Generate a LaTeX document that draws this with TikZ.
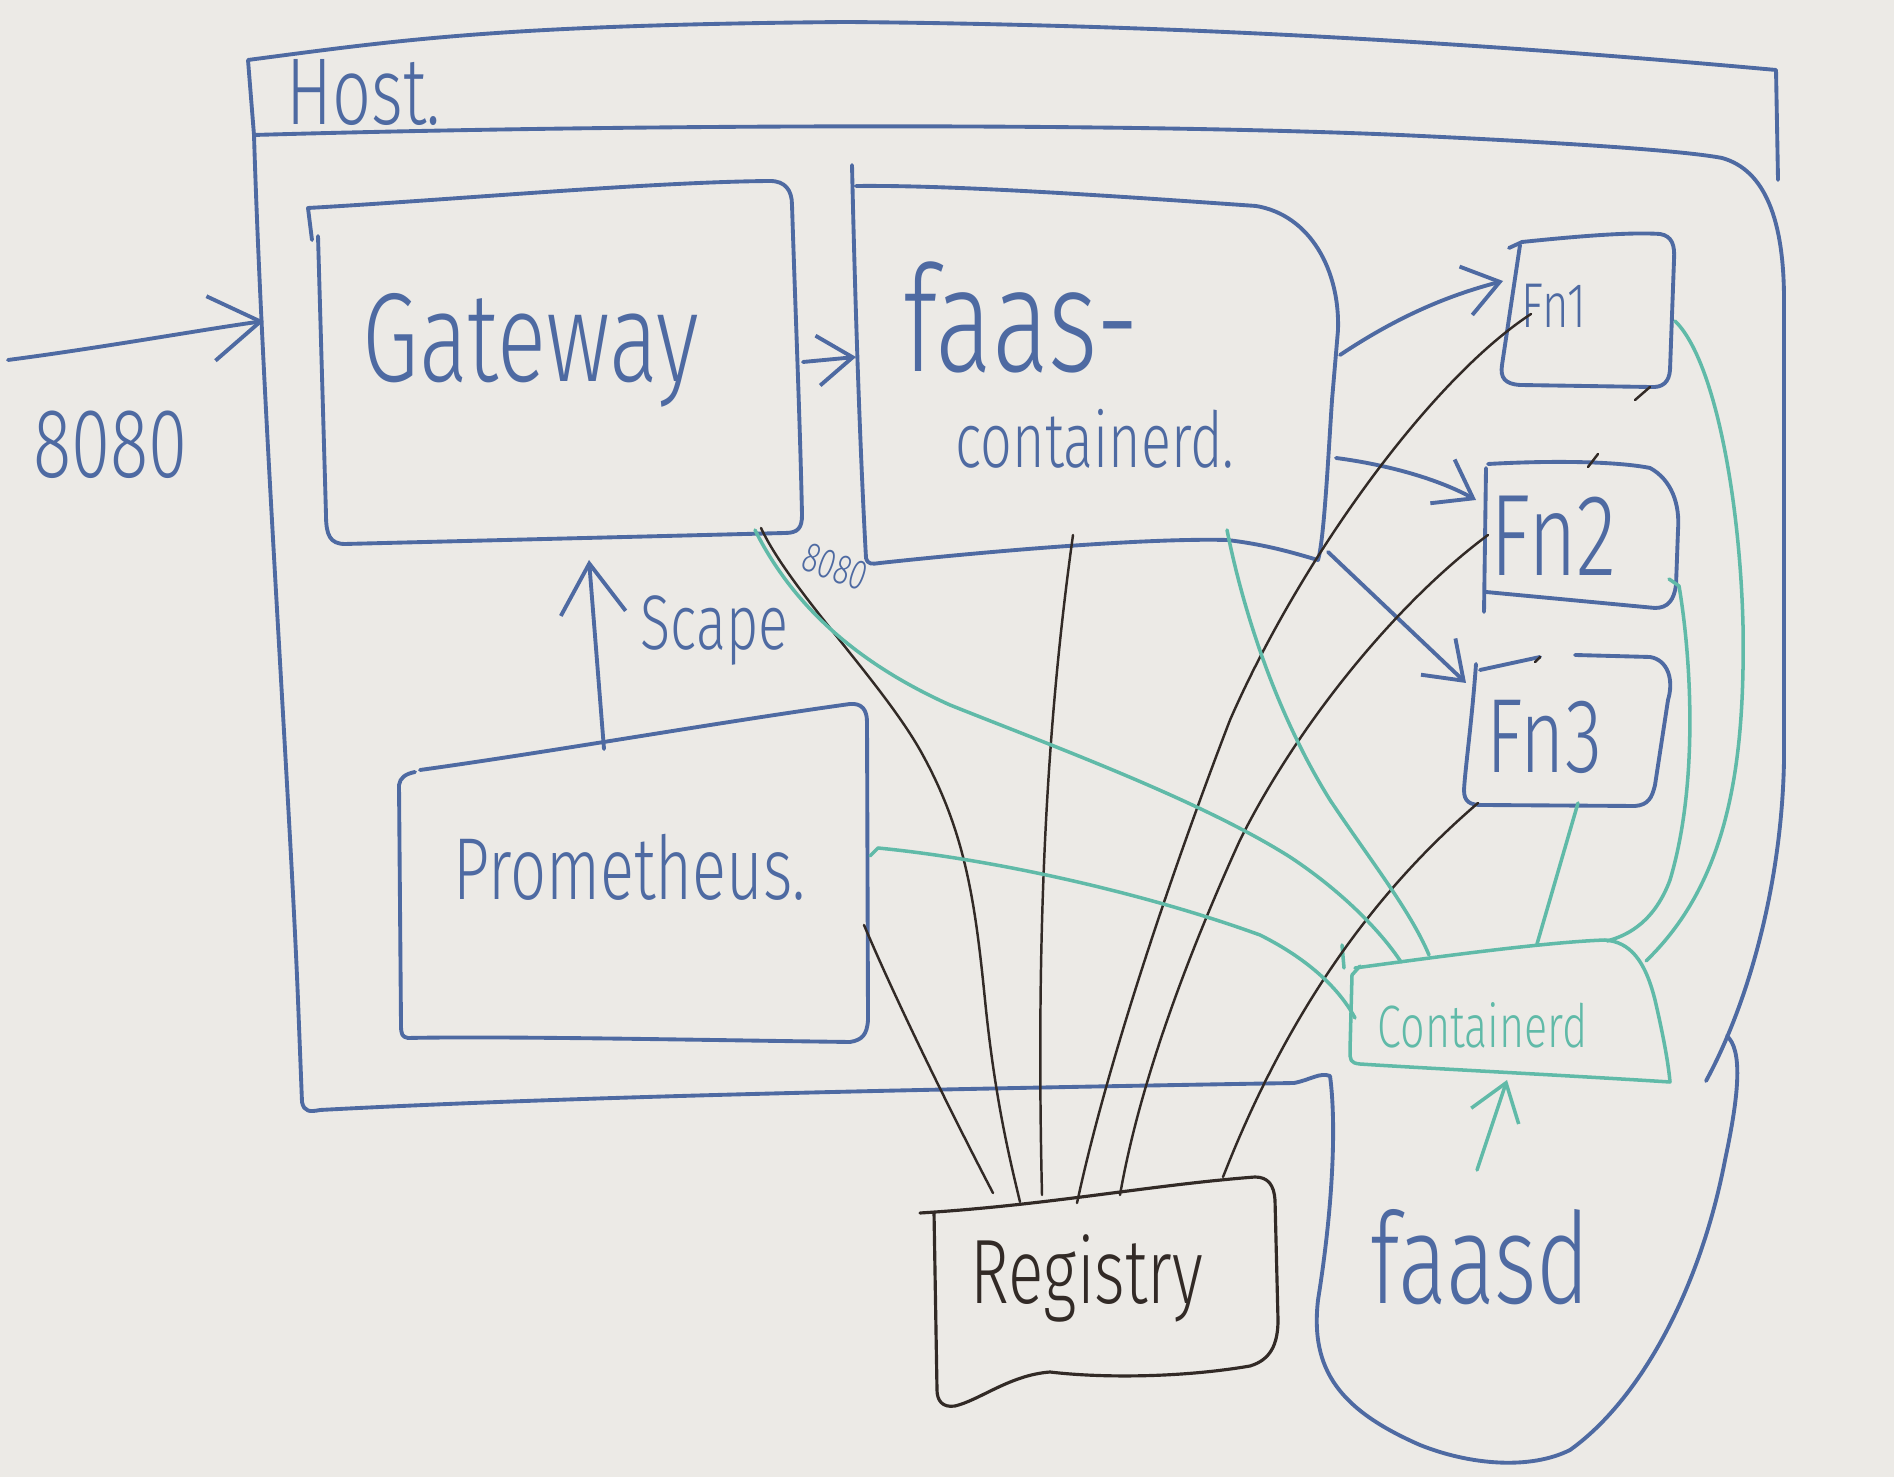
\documentclass[tikz,border=0pt]{standalone}
\usepackage{fontspec}
\usepackage{graphicx}
\setmainfont{Fira Sans Light}
\usetikzlibrary{arrows.meta}
\definecolor{inkblue}{RGB}{78,106,162}
\definecolor{inkteal}{RGB}{96,186,168}
\definecolor{inkblack}{RGB}{50,42,38}
\definecolor{board}{RGB}{236,234,230}
\newcommand{\handtxt}[2]{{\fontsize{#1}{#1}\selectfont\scalebox{0.72}[1]{#2}}}
\tikzset{
  bl/.style={draw=inkblue, line width=1.1pt, line cap=round, line join=round},
  tl/.style={draw=inkteal, line width=1pt, line cap=round, line join=round},
  bk/.style={draw=inkblack, line width=0.7pt, line cap=round, line join=round},
  bkbox/.style={draw=inkblack, line width=0.9pt, line cap=round, line join=round},
  lbl/.style={inner sep=0pt, anchor=base west},
  chev/.style={-{Straight Barb[length=5mm,width=6.5mm]}},
  chevs/.style={-{Straight Barb[length=3.5mm,width=5mm]}},
}
\begin{document}
\begin{tikzpicture}[x=0.01cm,y=-0.01cm]
\fill[board] (0,0) rectangle (1894,1477);
\useasboundingbox (0,0) rectangle (1894,1477);

% ---------- Host frame ----------
\draw[bl] (254,135) -- (248,60) .. controls (400,40) and (500,25) .. (846,22)
  .. controls (1200,25) and (1500,45) .. (1776,70) -- (1778,180);
\draw[bl] (254,135) .. controls (600,125) and (1100,122) .. (1400,135)
  .. controls (1550,142) and (1680,150) .. (1722,158)
  .. controls (1765,170) and (1784,220) .. (1784,300) -- (1784,760)
  .. controls (1782,880) and (1750,1000) .. (1706,1081);
\draw[bl] (254,135) .. controls (262,400) and (290,800) .. (298,1000) -- (302,1102)
  .. controls (304,1112) and (310,1112) .. (320,1110)
  .. controls (600,1095) and (1000,1088) .. (1294,1083)
  .. controls (1310,1080) and (1320,1072) .. (1330,1076)
  .. controls (1336,1120) and (1334,1200) .. (1318,1300)
  .. controls (1310,1370) and (1340,1410) .. (1420,1445)
  .. controls (1470,1465) and (1530,1470) .. (1570,1450)
  .. controls (1640,1400) and (1700,1290) .. (1725,1160)
  .. controls (1740,1090) and (1742,1050) .. (1727,1036);

% ---------- Gateway box ----------
\draw[bl] (312,240) -- (308,208) .. controls (450,200) and (650,182) .. (770,181)
  .. controls (785,181) and (792,190) .. (792,205)
  .. controls (795,300) and (800,420) .. (802,515)
  .. controls (802,528) and (798,533) .. (785,533) -- (345,544)
  .. controls (330,544) and (326,535) .. (326,515) -- (318,236);

% ---------- faas-containerd box ----------
\draw[bl] (852,165) .. controls (855,300) and (860,450) .. (866,558)
  .. controls (868,565) and (872,564) .. (880,563)
  .. controls (1000,550) and (1150,538) .. (1227,540)
  .. controls (1270,545) and (1300,555) .. (1318,560)
  .. controls (1324,540) and (1328,460) .. (1332,400) -- (1338,330)
  .. controls (1340,270) and (1310,215) .. (1256,206)
  .. controls (1100,195) and (950,185) .. (856,186);

% ---------- Fn boxes ----------
\draw[bl] (1509,248) -- (1522,242) .. controls (1580,236) and (1630,232) .. (1660,234)
  .. controls (1672,236) and (1675,245) .. (1674,260) -- (1670,370)
  .. controls (1669,382) and (1663,388) .. (1650,387) -- (1520,385)
  .. controls (1505,384) and (1500,378) .. (1502,365) -- (1520,245);
\draw[bl] (1486,468) -- (1484,612);
\draw[bl] (1488,464) .. controls (1560,460) and (1620,462) .. (1650,468)
  .. controls (1672,480) and (1680,505) .. (1678,530) -- (1676,585)
  .. controls (1674,600) and (1668,608) .. (1655,608) -- (1486,592);
\draw[bl] (1476,664) .. controls (1472,720) and (1465,770) .. (1464,790)
  .. controls (1464,802) and (1470,805) .. (1482,805) -- (1635,806)
  .. controls (1648,805) and (1652,798) .. (1655,785) -- (1668,700)
  .. controls (1674,680) and (1668,660) .. (1650,657) -- (1575,655);
\draw[bl] (1540,657) -- (1480,670);

% ---------- Prometheus box ----------
\draw[bl] (420,770) .. controls (550,752) and (720,722) .. (850,704)
  .. controls (862,703) and (867,710) .. (867,722) -- (868,1020)
  .. controls (867,1035) and (862,1040) .. (850,1042)
  .. controls (700,1040) and (500,1036) .. (408,1038)
  .. controls (402,1037) and (401,1034) .. (401,1025) -- (399,785)
  .. controls (400,778) and (405,774) .. (415,772);

% ---------- containerd box (teal) ----------
\draw[tl] (1342,945) -- (1344,968);
\draw[tl] (1355,968) .. controls (1450,955) and (1550,942) .. (1605,940)
  .. controls (1630,942) and (1645,960) .. (1655,1000)
  .. controls (1662,1030) and (1668,1060) .. (1670,1082)
  .. controls (1560,1075) and (1420,1068) .. (1360,1064)
  .. controls (1350,1063) and (1350,1060) .. (1350,1050) -- (1352,975) -- (1360,966);

% ---------- Registry box ----------
\draw[bkbox] (920,1213) .. controls (1050,1205) and (1150,1185) .. (1255,1177)
  .. controls (1268,1177) and (1274,1185) .. (1275,1200) -- (1278,1320)
  .. controls (1278,1345) and (1270,1360) .. (1250,1366)
  .. controls (1180,1378) and (1100,1378) .. (1050,1372)
  .. controls (1010,1375) and (980,1400) .. (955,1406)
  .. controls (942,1408) and (937,1400) .. (937,1390) -- (934,1212);

% ---------- Texts ----------
\node[lbl, text=inkblue] (host) at (286,125) {\handtxt{27}{Host.}};
\node[lbl, text=inkblue] (port) at (33,478) {\handtxt{28}{8080}};
\node[lbl, text=inkblue] (gw) at (362,382) {\handtxt{36}{Gateway}};
\node[lbl, text=inkblue] (faas) at (903,372) {\handtxt{42}{faas-}};
\node[lbl, text=inkblue] (faasb) at (955,468) {\handtxt{22}{containerd.}};
\node[lbl, text=inkblue] (fn1) at (1521,328) {\handtxt{18}{Fn1}};
\node[lbl, text=inkblue] (fn2) at (1490,576) {\handtxt{33}{Fn2}};
\node[lbl, text=inkblue] (fn3) at (1486,773) {\handtxt{30}{Fn3}};
\node[lbl, text=inkblue] (prom) at (453,900) {\handtxt{25}{Prometheus.}};
\node[lbl, text=inkblue] (scape) at (640,650) {\handtxt{22}{Scape}};
\node[inner sep=0pt, rotate=-20, text=inkblue] (gwport) at (835,567) {\handtxt{12}{8080}};
\node[lbl, text=inkteal] (ctr) at (1377,1048) {\handtxt{17}{Containerd}};
\node[lbl, text=inkblack] (reg) at (970,1303) {\handtxt{26}{Registry}};
\node[lbl, text=inkblue] (faasd) at (1370,1303) {\handtxt{36}{faasd}};

% ---------- connector end points ----------
\coordinate (inS) at (8,360);
\coordinate (inE) at (264,321);
\coordinate (gwR) at (803,362);
\coordinate (fcL) at (856,357);
\coordinate (prT) at (604,749);
\coordinate (gwB) at (589,560);
\coordinate (fcR1) at (1340,355);
\coordinate (fn1L) at (1503,281);
\coordinate (fcR2) at (1336,458);
\coordinate (fn2L) at (1476,500);
\coordinate (fcR3) at (1328,552);
\coordinate (fn3L) at (1466,683);
\coordinate (fdT) at (1477,1170);
\coordinate (ctB) at (1507,1080);
% registry links
\coordinate (prR) at (864,925);
\coordinate (rg1) at (993,1193);
\coordinate (gwBR) at (761,528);
\coordinate (rg2) at (1020,1202);
\coordinate (fcB) at (1073,535);
\coordinate (rg3) at (1042,1195);
\coordinate (fn1k) at (1531,314);
\coordinate (rg4) at (1077,1203);
\coordinate (fn2k) at (1488,535);
\coordinate (rg5) at (1120,1195);
\coordinate (fn3k) at (1478,803);
\coordinate (rg6) at (1223,1177);
% containerd links
\coordinate (gwT) at (755,530);
\coordinate (ct1) at (1401,962);
\coordinate (fcT) at (1227,530);
\coordinate (ct2) at (1429,955);
\coordinate (prG) at (870,856);
\coordinate (ct3) at (1355,1018);
\coordinate (fn3G) at (1578,803);
\coordinate (ct4) at (1537,944);
\coordinate (fn2G) at (1669,579);
\coordinate (ct5) at (1607,941);
\coordinate (fn1G) at (1675,321);
\coordinate (ct6) at (1646,961);

% ---------- blue arrows ----------
\draw[bl, chev] (inS) .. controls (100,348) and (200,330) .. (inE);
\draw[bl, chevs] (gwR) -- (fcL);
\draw[bl, chev] (prT) -- (gwB);
\draw[bl, chevs] (fcR1) .. controls (1400,315) and (1450,295) .. (fn1L);
\draw[bl, chevs] (fcR2) .. controls (1390,465) and (1440,480) .. (fn2L);
\draw[bl, chevs] (fcR3) -- (fn3L);

% ---------- black registry lines ----------
\draw[bk] (prR) .. controls (900,1010) and (960,1130) .. (rg1);
\draw[bk] (gwBR) .. controls (790,590) and (880,680) .. (920,750)
  .. controls (965,830) and (975,900) .. (985,1000)
  .. controls (995,1100) and (1010,1160) .. (rg2);
\draw[bk] (fcB) .. controls (1050,700) and (1035,900) .. (rg3);
\draw[bk] (fn1k) .. controls (1430,380) and (1300,560) .. (1230,720)
  .. controls (1180,850) and (1110,1050) .. (rg4);
\draw[bk] (fn2k) .. controls (1400,600) and (1300,720) .. (1240,840)
  .. controls (1190,950) and (1140,1080) .. (rg5);
\draw[bk] (fn3k) .. controls (1400,870) and (1300,980) .. (rg6);
\draw[bk] (1635,400) -- (1650,387);
\draw[bk] (1588,467) -- (1598,454);
\draw[bk] (1535,662) -- (1540,657);

% ---------- teal containerd lines ----------
\draw[tl] (gwT) .. controls (790,600) and (850,660) .. (950,705)
  .. controls (1050,745) and (1200,800) .. (1290,857)
  .. controls (1340,890) and (1380,930) .. (ct1);
\draw[tl] (fcT) .. controls (1245,620) and (1280,720) .. (1330,800)
  .. controls (1370,860) and (1410,910) .. (ct2);
\draw[tl] (prG) -- (878,848) .. controls (1000,860) and (1150,895) .. (1260,935)
  .. controls (1310,960) and (1340,990) .. (ct3);
\draw[tl] (fn3G) -- (ct4);
\draw[tl] (fn2G) -- (1679,586) .. controls (1690,650) and (1700,780) .. (1670,880)
  .. controls (1655,920) and (1630,935) .. (ct5);
\draw[tl] (fn1G) .. controls (1715,360) and (1740,500) .. (1743,626)
  .. controls (1745,760) and (1730,880) .. (ct6);
\draw[tl, -{Straight Barb[length=3.5mm,width=5mm]}] (fdT) -- (ctB);
\end{tikzpicture}
\end{document}
